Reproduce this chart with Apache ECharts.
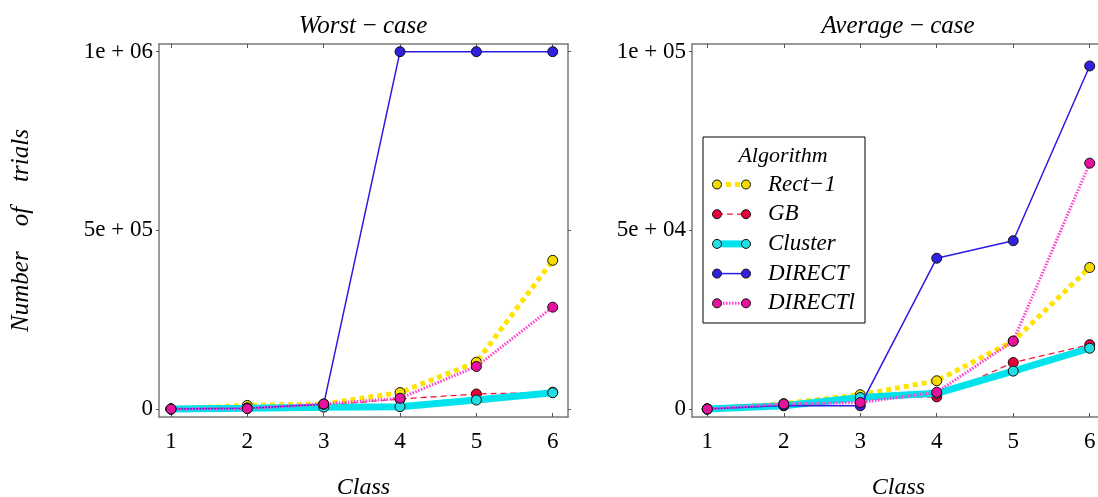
<!DOCTYPE html>
<html>
<head>
<meta charset="utf-8">
<script src="https://cdn.jsdelivr.net/npm/echarts@6/dist/echarts.min.js"></script>
<style>html,body{margin:0;padding:0;background:#fff}#c{width:1098px;height:497px}</style>
</head>
<body>
<div id="c"></div>
<script>
// ---- data ----
const classes = [1, 2, 3, 4, 5, 6];
const seriesNames = ['Rect\u22121', 'GB', 'Cluster', 'DIRECT', 'DIRECTl'];
const rect1Worst   = [0, 10000, 14000, 46000, 131000, 416000];
const gbWorst      = [0, 3000, 10000, 28000, 42000, 47000];
const clusterWorst = [0, 2000, 5000, 6500, 25000, 45500];
const directWorst  = [0, 2000, 13000, 1000000, 1000000, 1000000];
const directlWorst = [0, 1000, 14000, 30000, 119000, 285000];
const rect1Avg   = [0, 1500, 4000, 7900, 19000, 39600];
const gbAvg      = [0, 1000, 3000, 3400, 13000, 18000];
const clusterAvg = [0, 900, 3200, 4400, 10600, 17000];
const directAvg  = [0, 1000, 900, 42200, 47100, 96000];
const directlAvg = [0, 1400, 1800, 4700, 19000, 68800];
const worstTickValues = [0, 500000, 1000000];
const worstTickLabels = ['0', '5e + 05', '1e + 06'];
const avgTickValues = [0, 50000, 100000];
const avgTickLabels = ['0', '5e + 04', '1e + 05'];
const panelTitles = ['Worst\u2009\u2212\u2009case', 'Average\u2009\u2212\u2009case'];

// ---- styles ----
const FONT = 'Liberation Serif';
const lineColors   = ['#FFE400', '#F0183C', '#00E3EC', '#2B1BE0', '#FF40CC'];
const markerColors = ['#F5DC00', '#E8003A', '#22DDE2', '#3020E0', '#E8119E'];
const lineStyles = [
  {width: 5, type: [5, 4]},
  {width: 1.3, type: [6, 4]},
  {width: 7, type: 'solid'},
  {width: 1.5, type: 'solid'},
  {width: 3, type: [1.5, 1.5]}
];
const worstData = [rect1Worst, gbWorst, clusterWorst, directWorst, directlWorst];
const avgData = [rect1Avg, gbAvg, clusterAvg, directAvg, directlAvg];

const axisLineStyle = {color: '#7a7a7a', width: 1.5};
const tickStyle = {color: '#555', width: 1};
const labelStyle = {fontFamily: FONT, fontSize: 23, color: '#000'};
const nameStyle = {fontFamily: FONT, fontSize: 24, fontStyle: 'italic', color: '#000'};

function xAxes(grid, min, max) {
  return [
    {gridIndex: grid, type: 'value', min: min, max: max, position: 'bottom',
     axisLine: {show: true, onZero: false, lineStyle: axisLineStyle},
     axisTick: {show: true, inside: true, length: 4, customValues: classes, lineStyle: tickStyle},
     axisLabel: {show: true, customValues: classes, margin: 13, ...labelStyle, formatter: v => String(v)},
     splitLine: {show: false},
     name: 'Class', nameLocation: 'middle', nameGap: 59, nameTextStyle: nameStyle},
    {gridIndex: grid, type: 'value', min: min, max: max, position: 'top',
     axisLine: {show: true, onZero: false, lineStyle: axisLineStyle},
     axisTick: {show: true, inside: true, length: 4, customValues: classes, lineStyle: tickStyle},
     axisLabel: {show: false}, splitLine: {show: false}}
  ];
}
function yAxes(grid, min, max, vals, labs, withName) {
  const a = {gridIndex: grid, type: 'value', min: min, max: max, position: 'left',
     axisLine: {show: true, onZero: false, lineStyle: axisLineStyle},
     axisTick: {show: true, inside: false, length: 3, customValues: vals, lineStyle: tickStyle},
     axisLabel: {show: true, customValues: vals, margin: 6, ...labelStyle,
       formatter: v => { const i = vals.indexOf(v); return i >= 0 ? labs[i] : ''; }},
     splitLine: {show: false}};
  if (withName) {
    a.name = 'Number    of    trials';
    a.nameLocation = 'middle';
    a.nameGap = 125;
    a.nameTextStyle = {...nameStyle, fontSize: 25};
  }
  return [a,
    {gridIndex: grid, type: 'value', min: min, max: max, position: 'right',
     axisLine: {show: true, onZero: false, lineStyle: axisLineStyle},
     axisTick: {show: true, inside: false, length: 3, customValues: vals, lineStyle: tickStyle},
     axisLabel: {show: false}, splitLine: {show: false}}];
}

function makeSeries(dataArr, xi, yi) {
  return dataArr.map((vals, k) => ({
    type: 'line', name: seriesNames[k], xAxisIndex: xi, yAxisIndex: yi,
    data: classes.map((c, i) => [c, vals[i]]),
    symbol: 'circle', symbolSize: 10, showSymbol: true,
    lineStyle: {color: lineColors[k], width: lineStyles[k].width, type: lineStyles[k].type, cap: 'butt'},
    itemStyle: {color: markerColors[k], borderColor: '#111', borderWidth: 1},
    z: 2 + k, animation: false, silent: true
  }));
}

// legend drawn as graphic elements from the series names/styles
const legendX = 703, legendY = 137, legendW = 162, legendH = 186;
const legendEls = [
  {type: 'rect', shape: {x: legendX, y: legendY, width: legendW, height: legendH},
   style: {fill: '#fff', stroke: '#000', lineWidth: 1}, z: 100},
  {type: 'text', x: legendX + 80, y: 156, z: 101,
   style: {text: 'Algorithm', font: 'italic 22px "' + FONT + '"', fill: '#000', align: 'center', verticalAlign: 'middle'}}
];
seriesNames.forEach((n, k) => {
  const y = 184.5 + k * 29.7;
  legendEls.push({type: 'line', z: 101, shape: {x1: 717, y1: y, x2: 746, y2: y},
    style: {stroke: lineColors[k], lineWidth: lineStyles[k].width,
      lineDash: Array.isArray(lineStyles[k].type) ? lineStyles[k].type : null}});
  [717, 746].forEach(cx => legendEls.push({type: 'circle', z: 102, shape: {cx: cx, cy: y, r: 4.5},
    style: {fill: markerColors[k], stroke: '#111', lineWidth: 1}}));
  legendEls.push({type: 'text', x: 768, y: y, z: 101,
    style: {text: n, font: 'italic 23px "' + FONT + '"', fill: '#000', align: 'left', verticalAlign: 'middle'}});
});

const chart = echarts.init(document.getElementById('c'), null, {renderer: 'canvas'});
chart.setOption({
  animation: false,
  backgroundColor: '#fff',
  title: [
    {text: panelTitles[0], left: 363, top: 14, textAlign: 'center', padding: 0,
     textStyle: {fontFamily: FONT, fontSize: 25, fontStyle: 'italic', fontWeight: 'normal', color: '#000'}},
    {text: panelTitles[1], left: 898, top: 14, textAlign: 'center', padding: 0,
     textStyle: {fontFamily: FONT, fontSize: 25, fontStyle: 'italic', fontWeight: 'normal', color: '#000'}}
  ],
  grid: [
    {left: 159, top: 44, width: 409, height: 373, containLabel: false, outerBoundsMode: 'none'},
    {left: 692, top: 44, width: 413, height: 373, containLabel: false, outerBoundsMode: 'none'}
  ],
  xAxis: [...xAxes(0, 0.843, 6.2), ...xAxes(1, 0.8, 6.2)],
  yAxis: [...yAxes(0, -22400, 1021500, worstTickValues, worstTickLabels, true),
          ...yAxes(1, -2240, 102150, avgTickValues, avgTickLabels, false)],
  series: [...makeSeries(worstData, 0, 0), ...makeSeries(avgData, 2, 2)],
  graphic: legendEls
});
</script>
</body>
</html>
